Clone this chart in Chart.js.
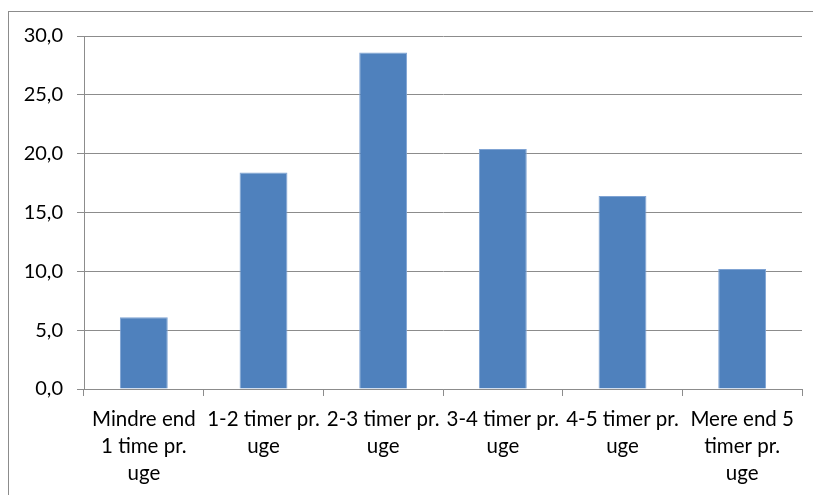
<!DOCTYPE html>
<html>
<head>
<meta charset="utf-8">
<script src="https://cdn.jsdelivr.net/npm/chart.js@4/dist/chart.umd.min.js"></script>
<style>
  html, body { margin: 0; padding: 0; background: #ffffff; }
  #wrap { position: relative; width: 813px; height: 495px; overflow: hidden; }
  #frame { position: absolute; left: 8px; top: 11px; width: 900px; height: 600px;
           border-left: 1px solid #8c8c8c; border-top: 1px solid #8c8c8c; }
  canvas { position: absolute; left: 0; top: 0; }
</style>
</head>
<body>
<div id="wrap">
  <div id="frame"></div>
  <canvas id="c" width="813" height="495"></canvas>
</div>
<script>
// Weekly hours categories, each split into its printed lines
const categories = [
  ["Mindre end", "1 time pr.", "uge"],
  ["1-2 timer pr.", "uge"],
  ["2-3 timer pr.", "uge"],
  ["3-4 timer pr.", "uge"],
  ["4-5 timer pr.", "uge"],
  ["Mere end 5", "timer pr.", "uge"]
];
// Share of respondents (%)
const shares = [6.1, 18.4, 28.6, 20.4, 16.4, 10.2];
// Value axis range and step
const yMin = 0;
const yMax = 30;
const yStep = 5;

const FONT = "'Lato', 'Open Sans', sans-serif";
const GRID = '#8c8c8c';

new Chart(document.getElementById('c'), {
  type: 'bar',
  data: {
    labels: categories,
    datasets: [{
      data: shares,
      backgroundColor: '#4f81bd',
      borderColor: '#7fa3d3',
      borderWidth: 1,
      barPercentage: 0.4,
      categoryPercentage: 1.0
    }]
  },
  options: {
    responsive: false,
    animation: false,
    devicePixelRatio: 1,
    layout: { padding: { top: 36, right: 11, left: 0, bottom: 0 } },
    plugins: { legend: { display: false }, tooltip: { enabled: false } },
    scales: {
      x: {
        offset: true,
        grid: { offset: true, drawOnChartArea: false, drawTicks: true, tickLength: 7, color: GRID, lineWidth: 1 },
        border: { color: GRID, width: 1 },
        ticks: { color: '#000', font: { family: FONT, size: 20.5, lineHeight: 1.32 }, padding: 10, maxRotation: 0, autoSkip: false },
        afterFit: (s) => { s.height = 106; }
      },
      y: {
        min: yMin,
        max: yMax,
        grid: { color: GRID, lineWidth: 1, drawTicks: true, tickLength: 7 },
        border: { color: GRID, width: 1 },
        ticks: {
          stepSize: yStep,
          color: '#000',
          font: { family: FONT, size: 20 },
          padding: 14,
          callback: (v) => Number(v).toFixed(1).replace('.', ',')
        },
        afterFit: (s) => { s.width = 84; }
      }
    }
  }
});
</script>
</body>
</html>
